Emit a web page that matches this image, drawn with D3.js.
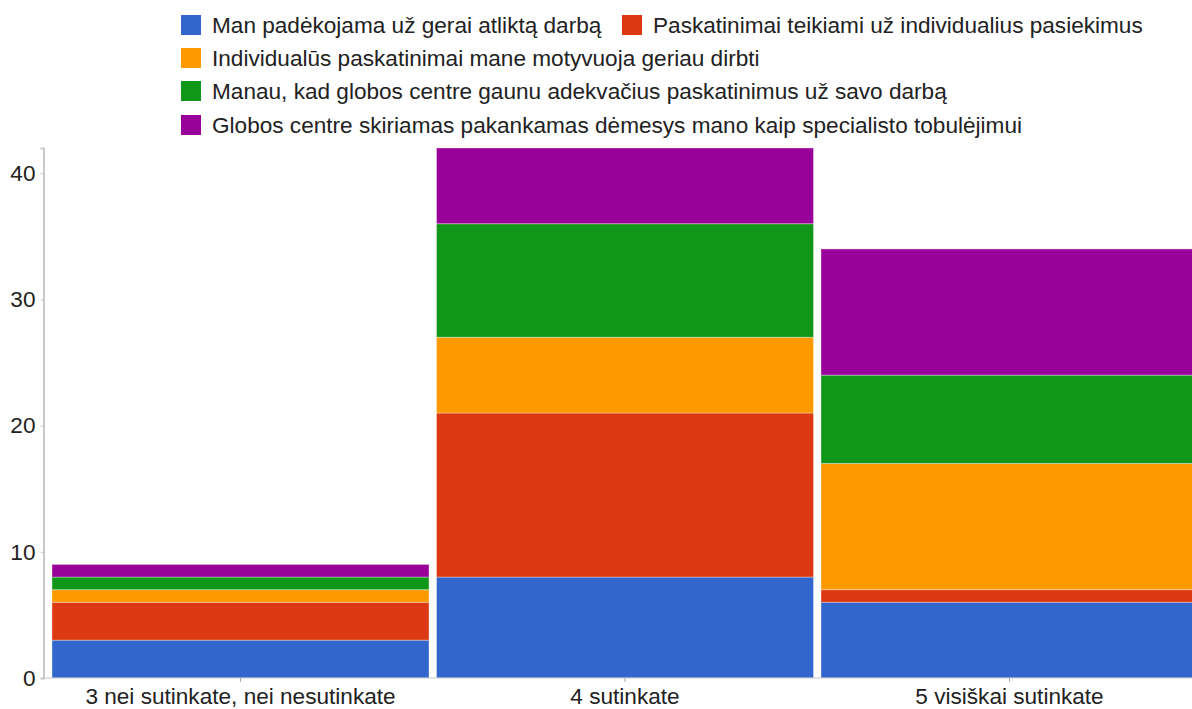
<!DOCTYPE html>
<html>
<head>
<meta charset="utf-8">
<script src="https://cdn.jsdelivr.net/npm/d3@7"></script>
<style>
  body { margin: 0; background: #fff; }
  text { font-family: "Liberation Sans", Arial, sans-serif; fill: #222; }
</style>
</head>
<body>
<script>
// Data
var categories = ["3 nei sutinkate, nei nesutinkate", "4 sutinkate", "5 visiškai sutinkate"];
var seriesNames = [
  "Man padėkojama už gerai atliktą darbą",
  "Paskatinimai teikiami už individualius pasiekimus",
  "Individualūs paskatinimai mane motyvuoja geriau dirbti",
  "Manau, kad globos centre gaunu adekvačius paskatinimus už savo darbą",
  "Globos centre skiriamas pakankamas dėmesys mano kaip specialisto tobulėjimui"
];
var padekojama = [3, 8, 6];
var pasiekimai = [3, 13, 1];
var motyvuoja = [1, 6, 10];
var adekvatus = [1, 9, 7];
var tobulejimas = [1, 6, 10];
var yTicks = [0, 10, 20, 30, 40];
var colors = ["#3366cc", "#dc3912", "#ff9900", "#109618", "#990099"];

var width = 1192;
var height = 709;
var axisX = 43.5;
var margin = { top: 148, bottom: 31 };
var fontSize = "22.6px";

var svg = d3.select("body")
            .append("svg")
            .attr("width", width)
            .attr("height", height);

var table = categories.map(function(c, i) {
  return { cat: c, s0: padekojama[i], s1: pasiekimai[i], s2: motyvuoja[i], s3: adekvatus[i], s4: tobulejimas[i] };
});
var stack = d3.stack().keys(["s0", "s1", "s2", "s3", "s4"])(table);

var xScale = d3.scaleBand()
               .domain(categories)
               .range([52, 1198])
               .paddingInner(0.0195)
               .paddingOuter(0);

var yScale = d3.scaleLinear()
               .domain([0, 42])
               .range([height - margin.bottom, margin.top]);

// Bars
svg.selectAll("g.layer")
   .data(stack)
   .enter()
   .append("g")
   .attr("class", "layer")
   .attr("fill", function(d, i) { return colors[i]; })
   .selectAll("rect")
   .data(function(d) { return d; })
   .enter()
   .append("rect")
   .attr("x", function(d) { return xScale(d.data.cat); })
   .attr("width", xScale.bandwidth())
   .attr("y", function(d) { return yScale(d[1]); })
   .attr("height", function(d) { return yScale(d[0]) - yScale(d[1]); })
   .attr("stroke", "#fff")
   .attr("stroke-opacity", 0.35)
   .attr("stroke-width", 1);

// Axes
var yAxis = d3.axisLeft(yScale).tickValues(yTicks).tickSize(3).tickPadding(5);
var gy = svg.append("g")
   .attr("transform", "translate(" + axisX + ",0)")
   .call(yAxis);
gy.select(".domain").attr("stroke", "#c8c8c8").attr("stroke-width", 2);
gy.selectAll(".tick line").attr("stroke", "#c8c8c8");
gy.selectAll(".tick text").attr("font-size", fontSize).attr("fill", "#222");

var xAxis = d3.axisBottom(xScale).tickSize(4).tickPadding(6);
var gx = svg.append("g")
   .attr("transform", "translate(0," + (height - margin.bottom) + ")")
   .call(xAxis);
gx.select(".domain").attr("stroke", "#c8c8c8").attr("d", "M" + axisX + ",0H" + width);
gx.selectAll(".tick line").attr("stroke", "#aaa");
gx.selectAll(".tick text").attr("font-size", fontSize).attr("fill", "#222");

// Legend
var legendPos = [
  { x: 181, y: 25 }, { x: 622, y: 25 },
  { x: 181, y: 58 }, { x: 181, y: 91 }, { x: 181, y: 125 }
];
var legend = svg.selectAll("g.legend")
   .data(seriesNames)
   .enter()
   .append("g")
   .attr("class", "legend")
   .attr("transform", function(d, i) { return "translate(" + legendPos[i].x + "," + legendPos[i].y + ")"; });

legend.append("rect")
   .attr("x", 0)
   .attr("y", -10)
   .attr("width", 20)
   .attr("height", 20)
   .attr("fill", function(d, i) { return colors[i]; });

legend.append("text")
   .attr("x", 31)
   .attr("dy", "0.35em")
   .attr("font-size", fontSize)
   .text(function(d) { return d; });
</script>
</body>
</html>
